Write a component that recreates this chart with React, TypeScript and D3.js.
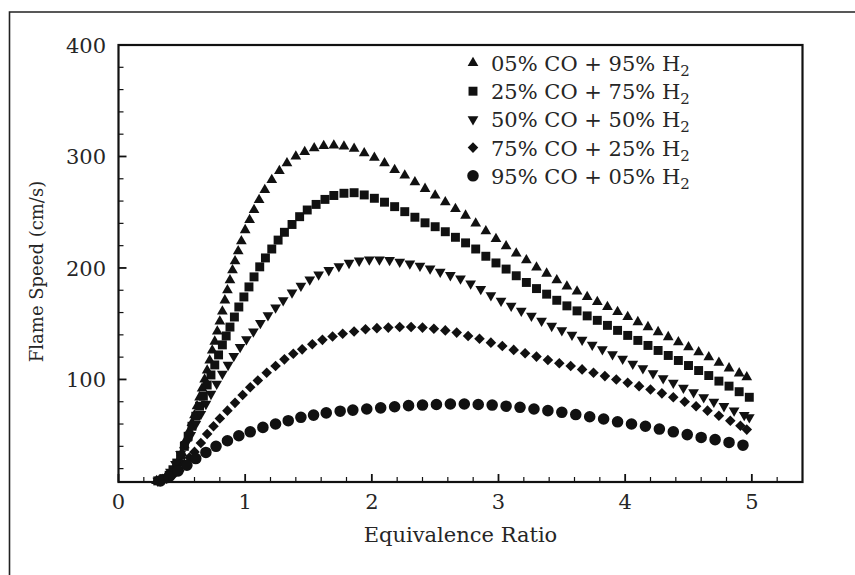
import React from 'react';
import * as d3 from 'd3';

// equivalence ratio, flame speed (cm/s)
const co05: [number, number][] = [
  [0.30, 9], [0.35, 10], [0.39, 13], [0.42, 17], [0.45, 22], [0.48, 28], [0.50, 34], [0.52, 41],
  [0.54, 47], [0.56, 54], [0.58, 61], [0.60, 68], [0.62, 76], [0.64, 84], [0.66, 92], [0.68, 100],
  [0.70, 108], [0.72, 117], [0.74, 126], [0.76, 134], [0.78, 143], [0.80, 152], [0.82, 161], [0.84, 171],
  [0.86, 180], [0.88, 189], [0.90, 198], [0.92, 206], [0.945, 215], [0.97, 224], [1.00, 234], [1.035, 243],
  [1.07, 252], [1.11, 261], [1.155, 270], [1.21, 279], [1.27, 287], [1.33, 294], [1.40, 300], [1.47, 304],
  [1.545, 307.5], [1.62, 309.5], [1.70, 310], [1.78, 309], [1.86, 307], [1.94, 303], [2.02, 299], [2.10, 294],
  [2.18, 288], [2.26, 283], [2.34, 277], [2.42, 271], [2.50, 265], [2.58, 259], [2.66, 253], [2.74, 247],
  [2.82, 240], [2.90, 233], [2.98, 226], [3.06, 219.5], [3.14, 213], [3.22, 207], [3.30, 200.5], [3.38, 195],
  [3.46, 189], [3.54, 183.5], [3.62, 179], [3.70, 174], [3.78, 169.5], [3.86, 165], [3.94, 160.5], [4.02, 156],
  [4.10, 151.5], [4.18, 147], [4.26, 142.5], [4.34, 138], [4.42, 133.5], [4.50, 129], [4.58, 124.5], [4.66, 120],
  [4.74, 115], [4.82, 110], [4.90, 105.5], [4.96, 102],
];

const co25: [number, number][] = [
  [0.31, 9], [0.36, 11], [0.40, 14], [0.43, 19], [0.46, 25], [0.49, 32], [0.52, 40], [0.55, 49],
  [0.58, 58], [0.61, 67], [0.64, 76], [0.67, 85], [0.70, 95], [0.73, 104], [0.76, 113], [0.79, 122],
  [0.82, 131], [0.85, 139], [0.88, 147], [0.915, 156], [0.95, 165], [0.99, 174], [1.03, 183], [1.07, 192],
  [1.115, 201], [1.16, 209], [1.21, 217], [1.26, 225], [1.31, 232], [1.37, 239], [1.43, 246], [1.49, 252],
  [1.56, 257], [1.63, 261.5], [1.70, 265], [1.78, 267], [1.86, 267.5], [1.94, 265.5], [2.02, 262.5], [2.10, 259],
  [2.18, 255], [2.26, 250.5], [2.34, 245.5], [2.42, 240.5], [2.50, 237], [2.58, 232.5], [2.66, 227.5], [2.74, 222.5],
  [2.82, 217], [2.90, 210.5], [2.98, 204.5], [3.06, 199], [3.14, 193], [3.22, 187], [3.30, 181.5], [3.38, 176.5],
  [3.46, 171], [3.54, 166], [3.62, 161.5], [3.70, 157], [3.78, 153], [3.86, 148.5], [3.94, 144], [4.02, 139.5],
  [4.10, 135], [4.18, 130.5], [4.26, 126], [4.34, 121.5], [4.42, 117], [4.50, 112.5], [4.58, 108], [4.66, 103.5],
  [4.74, 98.5], [4.82, 94], [4.90, 89], [4.98, 84],
];

const co50: [number, number][] = [
  [0.31, 9], [0.36, 12], [0.41, 17], [0.45, 24], [0.49, 33], [0.53, 42], [0.57, 50], [0.61, 60],
  [0.65, 69], [0.69, 78], [0.73, 87], [0.775, 96], [0.82, 105], [0.865, 113], [0.91, 121], [0.96, 129],
  [1.01, 136], [1.065, 143], [1.12, 150.5], [1.18, 157.5], [1.24, 164.5], [1.30, 171], [1.37, 178], [1.44, 184],
  [1.51, 189.5], [1.58, 194], [1.66, 198], [1.74, 201.5], [1.82, 204.5], [1.90, 206.5], [1.98, 207.5], [2.06, 207.5],
  [2.14, 207], [2.22, 205.5], [2.30, 204], [2.38, 202], [2.46, 199.5], [2.54, 196.5], [2.62, 193.5], [2.70, 190.5],
  [2.78, 186], [2.86, 181], [2.94, 175.5], [3.02, 170.5], [3.10, 166], [3.18, 161.5], [3.26, 157], [3.34, 152.5],
  [3.42, 148], [3.50, 144], [3.58, 140], [3.66, 135.5], [3.74, 131], [3.82, 127], [3.90, 122.5], [3.98, 118.5],
  [4.06, 114], [4.14, 110], [4.22, 105.5], [4.30, 101], [4.38, 97], [4.46, 92.5], [4.54, 88.5], [4.62, 84],
  [4.70, 80], [4.78, 76], [4.86, 72], [4.94, 68], [4.98, 66],
];

const co75: [number, number][] = [
  [0.32, 9], [0.38, 11], [0.43, 14], [0.48, 18], [0.52, 24], [0.56, 30], [0.60, 35], [0.65, 43],
  [0.70, 51], [0.75, 58], [0.80, 65], [0.86, 72], [0.92, 79], [0.98, 86], [1.04, 93], [1.10, 99],
  [1.17, 106], [1.24, 112], [1.31, 118], [1.38, 123], [1.45, 127], [1.53, 131.5], [1.61, 135.5], [1.69, 138.5],
  [1.77, 141], [1.86, 143], [1.95, 145], [2.04, 146], [2.13, 146.5], [2.22, 147], [2.31, 147], [2.40, 146.5],
  [2.49, 145.5], [2.58, 144], [2.67, 142], [2.76, 139], [2.85, 136.5], [2.94, 133], [3.03, 130], [3.12, 126.5],
  [3.21, 123.5], [3.30, 120.5], [3.39, 117.5], [3.48, 114.5], [3.57, 112], [3.66, 109], [3.75, 106], [3.84, 103],
  [3.93, 100], [4.02, 97], [4.11, 94], [4.20, 91], [4.29, 87.5], [4.38, 84], [4.47, 80], [4.56, 76],
  [4.65, 72], [4.74, 67.5], [4.83, 63], [4.91, 58.5], [4.96, 55],
];

const co95: [number, number][] = [
  [0.33, 9], [0.40, 13], [0.47, 18], [0.54, 23], [0.61, 29], [0.69, 34.5], [0.77, 40], [0.86, 45],
  [0.95, 49.5], [1.04, 53], [1.14, 57], [1.24, 60], [1.34, 63], [1.44, 66], [1.54, 68], [1.64, 70],
  [1.75, 71.5], [1.85, 72.5], [1.96, 73.5], [2.07, 74.5], [2.18, 75.5], [2.29, 76.5], [2.40, 77], [2.51, 77.5],
  [2.62, 78], [2.73, 78], [2.84, 77.5], [2.95, 77], [3.06, 76], [3.17, 75], [3.28, 73.5], [3.39, 72],
  [3.50, 70.5], [3.61, 68.5], [3.72, 66.5], [3.83, 64.5], [3.94, 62], [4.05, 60], [4.16, 58], [4.27, 55.5],
  [4.38, 53], [4.49, 50.5], [4.60, 48], [4.71, 46], [4.82, 43.5], [4.93, 41],
];

const legendCO = ['05%', '25%', '50%', '75%', '95%'];
const legendH2 = ['95%', '75%', '50%', '25%', '05%'];
const xTicks = [0, 1, 2, 3, 4, 5];
const yTicks = [100, 200, 300, 400];

const W = 855;
const H = 575;
const margin = { left: 118.5, right: 52.5, top: 45, bottom: 93 };
const font = '"DejaVu Serif", "Liberation Serif", serif';
const ink = '#111';
const textInk = '#262626';

const shapes = [
  { type: d3.symbolTriangle, size: 50, rot: 0 },
  { type: d3.symbolSquare, size: 80, rot: 0 },
  { type: d3.symbolTriangle, size: 50, rot: 180 },
  { type: d3.symbolSquare, size: 56, rot: 45 },
  { type: d3.symbolCircle, size: 105, rot: 0 },
];

const seriesData = [co05, co25, co50, co75, co95];

const App = () => {
  const x = d3.scaleLinear().domain([0, 5.4]).range([margin.left, W - margin.right]);
  const y = d3.scaleLinear().domain([8, 400]).range([H - margin.bottom, margin.top]);
  const x0 = x.range()[0];
  const x1 = x.range()[1];
  const y0 = y.range()[0];
  const y1 = y.range()[1];

  const xMinor = d3.range(0.2, 5.4, 0.2).filter(v => Math.abs(v - Math.round(v)) > 0.01);
  const yMinor = d3.range(20, 400, 20).filter(v => v % 100 !== 0);

  const paths = shapes.map(s => d3.symbol().type(s.type).size(s.size)() as string);

  return (
    <svg width={W} height={H} style={{ position: 'absolute', left: 0, top: 0, background: '#fff' }}>
      <rect x={0} y={0} width={W} height={H} fill="#fff" />
      {/* outer frame */}
      <path d={`M9.5,${H} V12 H${W}`} fill="none" stroke="#222" strokeWidth={1.6} />

      {/* series */}
      {seriesData.map((data, i) => (
        <g key={i} fill={ink}>
          {data.map((d, j) => (
            <path
              key={j}
              d={paths[i]}
              transform={`translate(${x(d[0])},${y(d[1])}) rotate(${shapes[i].rot})`}
            />
          ))}
        </g>
      ))}

      {/* plot frame */}
      <rect x={x0} y={y1} width={x1 - x0} height={y0 - y1} fill="none" stroke={ink} strokeWidth={2.2} />

      {/* x ticks */}
      {xTicks.map(t => (
        <g key={`xt${t}`}>
          <line x1={x(t)} x2={x(t)} y1={y0} y2={y0 - 8} stroke={ink} strokeWidth={1.8} />
          <text x={x(t)} y={y0 + 27} textAnchor="middle" fontFamily={font} fontSize={21} fill={textInk}>
            {t}
          </text>
        </g>
      ))}
      {xMinor.map(t => (
        <line key={`xm${t}`} x1={x(t)} x2={x(t)} y1={y0} y2={y0 - 5} stroke={ink} strokeWidth={1.2} />
      ))}

      {/* y ticks */}
      {yTicks.map(t => (
        <g key={`yt${t}`}>
          <line x1={x0} x2={x0 + 8} y1={y(t)} y2={y(t)} stroke={ink} strokeWidth={1.8} />
          <text x={106} y={y(t) + 8} textAnchor="end" fontFamily={font} fontSize={21} fill={textInk}>
            {t}
          </text>
        </g>
      ))}
      {yMinor.map(t => (
        <line key={`ym${t}`} x1={x0} x2={x0 + 5} y1={y(t)} y2={y(t)} stroke={ink} strokeWidth={1.2} />
      ))}

      {/* axis titles */}
      <text x={(x0 + x1) / 2} y={y0 + 60} textAnchor="middle" fontFamily={font} fontSize={21} fill={textInk}>
        Equivalence Ratio
      </text>
      <text
        transform={`translate(43,${(y0 + y1) / 2 + 8}) rotate(-90)`}
        textAnchor="middle"
        fontFamily={font}
        fontSize={18}
        fill={textInk}
      >
        Flame Speed (cm/s)
      </text>

      {/* legend */}
      {legendCO.map((c, i) => {
        const ly = 63 + i * 28.2;
        return (
          <g key={`lg${i}`}>
            <path d={paths[i]} fill={ink} transform={`translate(473,${ly}) rotate(${shapes[i].rot})`} />
            <text x={491} y={ly + 8} fontFamily={font} fontSize={21} fill={textInk}>
              {`${c} CO + ${legendH2[i]} H`}
              <tspan fontSize={15} dy={5}>2</tspan>
            </text>
          </g>
        );
      })}
    </svg>
  );
};

export default App;
